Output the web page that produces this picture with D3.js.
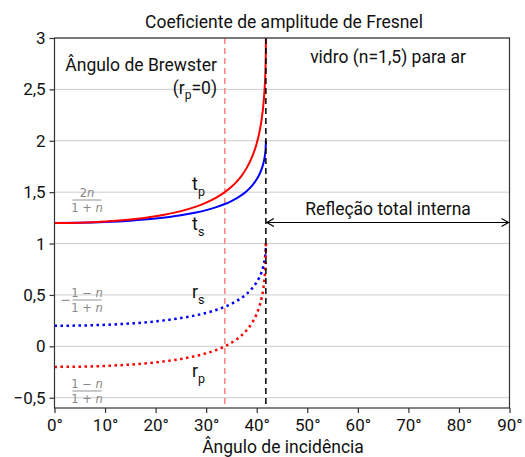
<!DOCTYPE html>
<html><head><meta charset="utf-8">
<script src="https://cdn.jsdelivr.net/npm/d3@7"></script>
<style>body{margin:0;background:#fff}svg{display:block}</style>
</head><body>
<svg id="c" width="525" height="457"></svg>
<script>
const angles = [0,5,10,15,20,25,28,30,32,33.69,35,36,37,38,39,40,40.5,41,41.3,41.5,41.6,41.7,41.78,41.805,41.81];
const rs = [0.2,0.2023,0.2095,0.2225,0.2430,0.2748,0.3020,0.3252,0.3541,0.3846,0.4136,0.4401,0.4715,0.5100,0.5587,0.6249,0.6695,0.7287,0.7775,0.8216,0.8506,0.8893,0.9403,0.9746,1.0];
const ts = [1.2,1.2023,1.2095,1.2225,1.2430,1.2748,1.3020,1.3252,1.3541,1.3846,1.4136,1.4401,1.4715,1.5100,1.5587,1.6249,1.6695,1.7287,1.7775,1.8216,1.8506,1.8893,1.9403,1.9746,2.0];
const rp = [-0.2,-0.1977,-0.1905,-0.1773,-0.1562,-0.1228,-0.0935,-0.0679,-0.0353,0,0.0345,0.0667,0.1062,0.1559,0.2218,0.3163,0.3837,0.4780,0.5605,0.6389,0.6925,0.7671,0.8706,0.9438,1.0];
const tp = [1.2,1.2035,1.2143,1.2340,1.2657,1.3158,1.3598,1.3982,1.4470,1.5,1.5518,1.6001,1.6593,1.7339,1.8327,1.9745,2.0755,2.2171,2.3408,2.4583,2.5387,2.6506,2.8059,2.9156,3.0];
const xTicks = [0,10,20,30,40,50,60,70,80,90];
const yTicks = [-0.5,0,0.5,1,1.5,2,2.5,3];
const brewster = 33.69, critical = 41.81;

const svg = d3.select("#c");
const L=54.5, R=509.5, T=38, B=408;
const x = d3.scaleLinear().domain([0,90]).range([L,R]);
const y = d3.scaleLinear().domain([-0.6,3]).range([B,T]);
const font = "Roboto, 'Open Sans', sans-serif";
const fmt = v => String(v).replace(".", ",").replace("-", "−");

// grid
svg.append("g").selectAll("line").data(yTicks).join("line")
  .attr("x1",L).attr("x2",R).attr("y1",d=>y(d)).attr("y2",d=>y(d))
  .attr("stroke","#cccccc").attr("stroke-width",1);

// vertical lines
svg.append("line").attr("x1",x(brewster)).attr("x2",x(brewster)).attr("y1",T).attr("y2",B)
  .attr("stroke","#ff8080").attr("stroke-width",1.5).attr("stroke-dasharray","6,4");

const line = (ys) => d3.line().x((d,i)=>x(angles[i])).y((d,i)=>y(ys[i])).curve(d3.curveMonotoneX)(angles);
svg.append("clipPath").attr("id","pc").append("rect").attr("x",L).attr("y",T).attr("width",R-L).attr("height",B-T);
const g = svg.append("g").attr("clip-path","url(#pc)");
g.append("path").attr("d",line(ts)).attr("fill","none").attr("stroke","#0000ff").attr("stroke-width",2);
g.append("path").attr("d",line(tp)).attr("fill","none").attr("stroke","#ff0000").attr("stroke-width",2);
g.append("path").attr("d",line(rs)).attr("fill","none").attr("stroke","#0000ff").attr("stroke-width",2.5).attr("stroke-dasharray","2.5,3.5");
g.append("path").attr("d",line(rp)).attr("fill","none").attr("stroke","#ff0000").attr("stroke-width",2.5).attr("stroke-dasharray","2.5,3.5");

svg.append("line").attr("x1",x(critical)).attr("x2",x(critical)).attr("y1",T).attr("y2",B)
  .attr("stroke","#000").attr("stroke-width",1.5).attr("stroke-dasharray","6,4");

// frame
svg.append("rect").attr("x",L).attr("y",T).attr("width",R-L).attr("height",B-T)
  .attr("fill","none").attr("stroke","#333").attr("stroke-width",1.2);

// axes
const xa = svg.append("g").attr("transform",`translate(0,${B})`)
  .call(d3.axisBottom(x).tickValues(xTicks).tickSize(5).tickSizeOuter(0).tickFormat(d=>d+"°"));
const ya = svg.append("g").attr("transform",`translate(${L},0)`)
  .call(d3.axisLeft(y).tickValues(yTicks).tickSize(5).tickSizeOuter(0).tickFormat(fmt));
[xa,ya].forEach(a=>{
  a.select(".domain").remove();
  a.selectAll("line").attr("stroke","#333").attr("stroke-width",1.2);
  a.selectAll("text").attr("font-family",font).attr("font-size",17).attr("fill","#111");
});
xa.selectAll("text").attr("dy","0.9em");
ya.selectAll("text").attr("dx","-0.05em");

const txt = (t,xx,yy,anchor="middle",size=17.5)=>svg.append("text").attr("x",xx).attr("y",yy)
  .attr("text-anchor",anchor).attr("font-family",font).attr("font-size",size).attr("fill","#111").text(t);

txt("Coeficiente de amplitude de Fresnel",284,28);
txt("Ângulo de incidência",283,453);
txt("vidro (n=1,5) para ar",388,63);
txt("Ângulo de Brewster",217,71,"end");
// (r_p=0)
const bt = svg.append("text").attr("x",217).attr("y",94).attr("text-anchor","end")
  .attr("font-family",font).attr("font-size",17.5).attr("fill","#111");
bt.append("tspan").text("(r");
bt.append("tspan").attr("font-size",12).attr("dy",5).text("p");
bt.append("tspan").attr("dy",-5).text("=0)");

txt("Refleção total interna",388,215);

// double arrow
const ay = 222.5, ax1 = x(critical), ax2 = R;
svg.append("line").attr("x1",ax1+1).attr("x2",ax2-1).attr("y1",ay).attr("y2",ay).attr("stroke","#000").attr("stroke-width",1.2);
svg.append("path").attr("d",`M${ax1+8},${ay-4}L${ax1+1},${ay}L${ax1+8},${ay+4}`).attr("fill","none").attr("stroke","#000").attr("stroke-width",1.2);
svg.append("path").attr("d",`M${ax2-8},${ay-4}L${ax2-1},${ay}L${ax2-8},${ay+4}`).attr("fill","none").attr("stroke","#000").attr("stroke-width",1.2);

// curve labels
const sub = (a,b,xx,yy)=>{
  const t = svg.append("text").attr("x",xx).attr("y",yy).attr("font-family",font).attr("font-size",18).attr("fill","#111");
  t.append("tspan").text(a);
  t.append("tspan").attr("font-size",12.5).attr("dy",6).text(b);
};
sub("t","p",192,190);
sub("t","s",192,230);
sub("r","s",192,298);
sub("r","p",192,377);

// fractions
const frac = (num, xx, yy, minus) => {
  const gg = svg.append("g").attr("fill","#888").attr("font-family","'DejaVu Sans', sans-serif").attr("font-size",11.5);
  const n1 = gg.append("text").attr("x",xx).attr("y",yy-3).attr("text-anchor","middle");
  num(n1);
  gg.append("line").attr("x1",xx-14.5).attr("x2",xx+14.5).attr("y1",yy).attr("y2",yy).attr("stroke","#888").attr("stroke-width",0.9);
  const d = gg.append("text").attr("x",xx).attr("y",yy+11.5).attr("text-anchor","middle");
  d.append("tspan").text("1 + ");
  d.append("tspan").attr("font-style","italic").text("n");
  if (minus) gg.append("text").attr("x",xx-16).attr("y",yy+4).attr("text-anchor","end").attr("font-size",12.5).text("−");
};
frac(t=>{t.append("tspan").text("2");t.append("tspan").attr("font-style","italic").text("n");}, 87, 200);
frac(t=>{t.append("tspan").text("1 − ");t.append("tspan").attr("font-style","italic").text("n");}, 87, 300, true);
frac(t=>{t.append("tspan").text("1 − ");t.append("tspan").attr("font-style","italic").text("n");}, 87, 391);
</script>
</body></html>
